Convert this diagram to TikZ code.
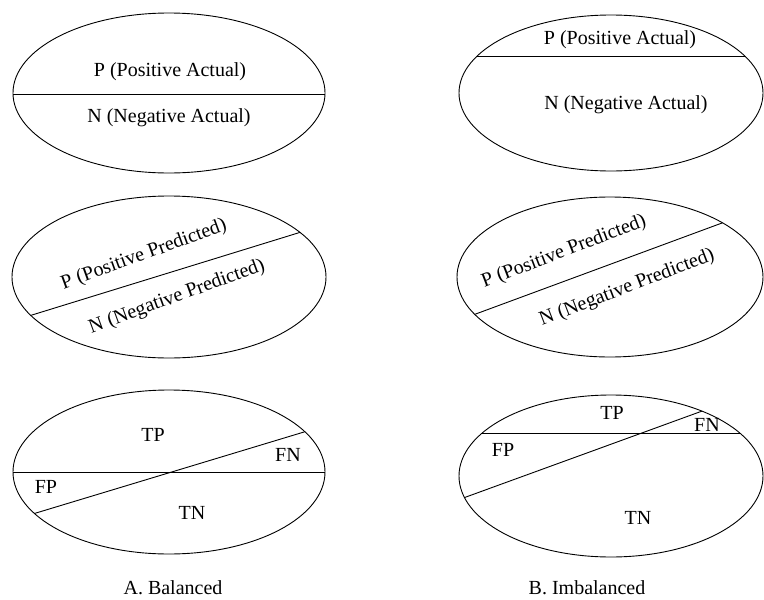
\documentclass[tikz,border=0pt]{standalone}
\usepackage{fontspec}
\setmainfont{Liberation Serif}
\usetikzlibrary{calc}
\begin{document}
\begin{tikzpicture}[x=1pt,y=-1pt,
  outline/.style={line width=0.9pt},
  divider/.style={line width=0.9pt},
  lbl/.style={font=\fontsize{20}{24}\selectfont, inner sep=0pt},
]
\useasboundingbox (0,0) rectangle (764,600);

% ---------- A1 ----------
\begin{scope}
  \clip (169,93) ellipse [x radius=156, y radius=80];
  \draw[divider] (0,94) -- (340,94);
\end{scope}
\draw[outline] (169,93) ellipse [x radius=156, y radius=80];
\node[lbl] (a1p) at (170,72) {P (Positive Actual)};
\node[lbl] (a1n) at (169,118) {N (Negative Actual)};

% ---------- B1 ----------
\begin{scope}
  \clip (611,93) ellipse [x radius=152, y radius=78];
  \draw[divider] (440,56) -- (764,56);
\end{scope}
\draw[outline] (611,93) ellipse [x radius=152, y radius=78];
\node[lbl] (b1p) at (620,40) {P (Positive Actual)};
\node[lbl] (b1n) at (626,105) {N (Negative Actual)};

% ---------- A2 ----------
\coordinate (a2s) at (32,315);
\coordinate (a2e) at (298,233);
\begin{scope}
  \clip (169,277) ellipse [x radius=157, y radius=81];
  \draw[divider] ($(a2s)!-0.2!(a2e)$) -- ($(a2s)!1.2!(a2e)$);
\end{scope}
\draw[outline] (169,277) ellipse [x radius=157, y radius=81];
\node[lbl, rotate=20] (a2p) at (144,255) {P (Positive Predicted)};
\node[lbl, rotate=20] (a2n) at (177,297) {N (Negative Predicted)};

% ---------- B2 ----------
\coordinate (b2s) at (473,315);
\coordinate (b2e) at (722,223);
\begin{scope}
  \clip (610,277) ellipse [x radius=153, y radius=80];
  \draw[divider] ($(b2s)!-0.2!(b2e)$) -- ($(b2s)!1.2!(b2e)$);
\end{scope}
\draw[outline] (610,277) ellipse [x radius=153, y radius=80];
\node[lbl, rotate=21] (b2p) at (564,252) {P (Positive Predicted)};
\node[lbl, rotate=21] (b2n) at (627,288) {N (Negative Predicted)};

% ---------- A3 ----------
\coordinate (a3s) at (36,513);
\coordinate (a3e) at (304,432);
\begin{scope}
  \clip (169,472) ellipse [x radius=156, y radius=82];
  \draw[divider] (0,472) -- (340,472);
  \draw[divider] ($(a3s)!-0.2!(a3e)$) -- ($(a3s)!1.2!(a3e)$);
\end{scope}
\draw[outline] (169,472) ellipse [x radius=156, y radius=82];
\node[lbl] (a3tp) at (153,435) {TP};
\node[lbl] (a3fn) at (288,455) {FN};
\node[lbl] (a3fp) at (46,487) {FP};
\node[lbl] (a3tn) at (192,513) {TN};
\node[lbl] (capa) at (173,588) {A. Balanced};

% ---------- B3 ----------
\coordinate (b3s) at (466,497);
\coordinate (b3e) at (705,410);
\begin{scope}
  \clip (611,476) ellipse [x radius=152, y radius=81];
  \draw[divider] (440,433) -- (764,433);
  \draw[divider] ($(b3s)!-0.2!(b3e)$) -- ($(b3s)!1.2!(b3e)$);
\end{scope}
\draw[outline] (611,476) ellipse [x radius=152, y radius=81];
\node[lbl] (b3tp) at (612,413) {TP};
\node[lbl] (b3fn) at (707,425) {FN};
\node[lbl] (b3fp) at (503,450) {FP};
\node[lbl] (b3tn) at (638,518) {TN};
\node[lbl] (capb) at (587,588) {B. Imbalanced};
\end{tikzpicture}
\end{document}
